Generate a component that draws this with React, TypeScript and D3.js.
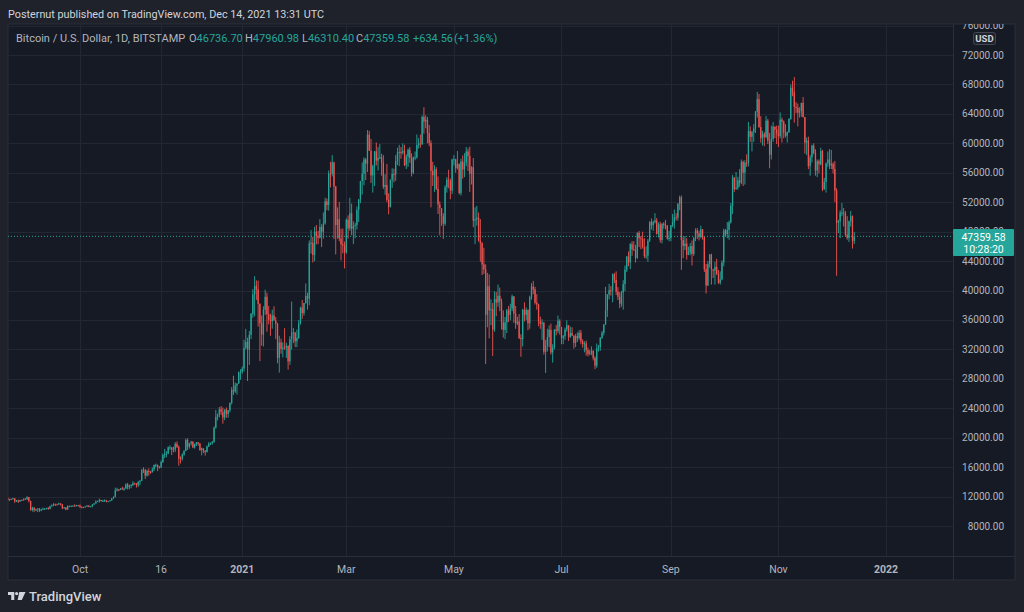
import * as d3 from 'd3';

// BTC/USD daily candles, BITSTAMP, 2020-08-21 .. 2021-12-14 (one value per day)
const firstDay = '2020-08-21';

const opens = [
  11860, 11530, 11680, 11650, 11770, 11340, 11470, 11320, 11530, 11480, 11710,
  11650, 11920, 11400, 10170, 10470, 10170, 10250, 10370, 10130, 10230, 10340, 10390, 10440, 10330, 10680, 10790, 10950, 10940, 10930, 11080, 10920, 10420, 10530, 10240, 10740, 10690, 10730, 10770, 10700, 10840,
  10780, 10620, 10570, 10550, 10670, 10790, 10600, 10670, 10920, 11060, 11300, 11380, 11540, 11430, 11430, 11500, 11320, 11360, 11500, 11750, 11920, 12820, 12980, 12930, 13120, 13030, 13070, 13650, 13270, 13460, 13560,
  13800, 13760, 13550, 14030, 14150, 15590, 15580, 14840, 15480, 15330, 15300, 15700, 16290, 16320, 16070, 15960, 16720, 17660, 17800, 17820, 18690, 18690, 18400, 18380, 19170, 18730, 17150, 17140, 17720, 18180,
  19700, 18790, 19220, 19450, 18680, 19150, 19370, 19180, 18320, 18550, 18260, 18040, 18800, 19170, 19270, 19440, 21360, 22820, 23140, 23860, 23480, 22740, 23830, 23230, 23730, 24710, 26490, 26280, 27080, 27360, 28890,
  28970, 29410, 32200, 33000, 31990, 33980, 36820, 39470, 40630, 40150, 38180, 35540, 34010, 37390, 39150, 36770, 36010, 35800, 36620, 35920, 35470, 30850, 32950, 32080, 32260, 32250, 32470, 30370, 33380, 34270, 34320,
  33100, 33540, 35510, 37670, 36930, 38290, 39260, 38870, 46400, 46480, 44830, 47990, 47400, 47190, 48630, 47990, 49130, 52120, 51610, 55890, 55850, 57410, 54130, 48900, 49700, 47060, 46280, 46110,
  45160, 49610, 48430, 50500, 48370, 48760, 48880, 50970, 52390, 54880, 55860, 57800, 57230, 61190, 59000, 55630, 56910, 58910, 57650, 58030, 58100, 57350, 54100, 54340, 52300, 51330, 55030, 55830, 55780, 57600, 58760,
  58800, 58730, 58970, 57060, 58200, 59130, 57990, 56000, 58090, 58100, 59770, 59980, 59860, 63580, 62960, 63200, 61410, 60030, 56250, 55660, 56470, 53800, 51700, 51180, 50090, 49070, 54020, 55050, 54880, 53580,
  57800, 57830, 56630, 57210, 53240, 57520, 56440, 57380, 58900, 58280, 55860, 56750, 49500, 49690, 49900, 46760, 46430, 43540, 42880, 36700, 40580, 37300, 37450, 34700, 38800, 38370, 39290, 38530, 35680, 34640, 35660,
  37300, 36690, 37570, 39190, 36850, 35520, 35800, 33550, 33400, 37390, 36690, 37340, 35550, 39100, 40520, 40150, 38350, 38100, 35840, 35480, 35600, 31680, 32510, 33680, 34660, 31590, 32280, 34700, 34500, 35900,
  35040, 33570, 33800, 34670, 35290, 33690, 34220, 33860, 32880, 33810, 33520, 34260, 33090, 32730, 32820, 31880, 31390, 31530, 31780, 30830, 29790, 32140, 32300, 33590, 34260, 35400, 37300, 39470, 40030, 40020, 42220,
  41460, 39850, 39150, 38200, 39720, 40870, 42830, 44610, 43810, 46290, 45590, 45550, 44420, 47830, 47110, 47010, 45900, 44690, 44740, 46760, 49330, 48860, 49300, 49520, 47700, 48990, 46850, 49070, 48900, 48820, 47050,
  47130, 48850, 49280, 49940, 49910, 51770, 52660, 46860, 46070, 46370, 44850, 45160, 46030, 44960, 47110, 48150, 47760, 47300, 48310, 47250, 42900, 40700, 43590, 44880, 42840, 42720, 43210, 42240, 41040, 41520,
  43790, 48140, 47660, 48240, 49250, 51500, 55340, 53800, 53970, 54970, 54660, 57480, 56010, 57370, 57350, 61670, 60880, 61530, 62040, 64280, 66000, 62210, 60690, 61290, 60860, 63080, 60330, 58450, 60590, 62250, 61860,
  61320, 61000, 63230, 62940, 61440, 61010, 61530, 63310, 67550, 66940, 64950, 64830, 64160, 64400, 65500, 63560, 60100, 60370, 56900, 58100, 59700, 58700, 56300, 57570, 57150, 58960, 53740, 54750, 57280, 57800,
  56990, 57230, 56510, 53600, 49200, 49390, 50580, 50600, 50500, 47600, 47140, 49390, 50100, 46737,
];

const highs = [
  11880, 11690, 11720, 11820, 11780, 11540, 11590, 11550, 11580, 11720, 11770,
  12050, 11950, 11440, 10630, 10570, 10350, 10400, 10440, 10350, 10500, 10400, 10480, 10570, 10780, 10940, 11100, 11050, 11030, 11180, 11080, 10990, 10580, 10560, 10780, 10770, 10790, 10800, 10950, 10870, 10850,
  10930, 10660, 10610, 10690, 10800, 10800, 10700, 10960, 11110, 11490, 11440, 11720, 11550, 11560, 11620, 11540, 11400, 11500, 11800, 12030, 13210, 13190, 13020, 13160, 13350, 13240, 13790, 13860, 13630, 13680, 14100,
  13900, 13830, 14080, 14240, 15760, 15970, 15770, 15650, 15830, 15470, 15950, 16350, 16480, 16330, 16140, 16900, 17860, 18480, 18170, 18800, 18960, 18690, 18780, 19400, 19500, 18930, 17450, 17870, 18330, 19860,
  19920, 19300, 19580, 19520, 19180, 19420, 19420, 19290, 18640, 18560, 18280, 18950, 19400, 19340, 19560, 21530, 23770, 23290, 24170, 24300, 24100, 23830, 24100, 23790, 24790, 26880, 28420, 27500, 27380, 28990, 29300,
  29680, 33300, 34800, 33600, 34500, 36950, 40180, 41950, 41380, 41350, 38260, 36600, 37850, 40100, 39700, 37900, 36850, 37400, 37850, 36400, 35600, 33850, 33450, 32950, 34880, 32900, 32550, 33800, 38500, 34900, 34320,
  34700, 35980, 37800, 38700, 38300, 40950, 39700, 46800, 48200, 47300, 48650, 48900, 48100, 49700, 49000, 50600, 52600, 52500, 56300, 57500, 58400, 57500, 54200, 51300, 52050, 48400, 48400, 46650,
  49800, 50200, 52600, 51800, 49400, 49200, 51400, 52400, 54900, 57400, 58100, 58000, 61800, 61700, 60600, 57100, 58950, 60100, 59500, 59900, 58600, 58400, 55800, 57200, 53200, 55100, 56600, 56550, 58400, 59400, 59800,
  59500, 60000, 59800, 58500, 59300, 59500, 58650, 58200, 58900, 61200, 60700, 61200, 63800, 64900, 63800, 63600, 62500, 60400, 57500, 57000, 56750, 55500, 52100, 51200, 50500, 54300, 55400, 56400, 55200, 57900,
  58400, 57900, 58950, 57250, 57900, 58350, 58650, 59500, 59300, 59550, 56900, 58000, 51300, 51500, 50600, 49700, 46600, 45800, 43550, 42400, 42200, 38800, 38300, 39900, 39800, 40800, 40400, 38900, 37300, 36400, 37500,
  37900, 38200, 39450, 39250, 37900, 36450, 36800, 34050, 37500, 38400, 37700, 37450, 39300, 41000, 41300, 40500, 39500, 38200, 36450, 36100, 35750, 33300, 34800, 35250, 35500, 32700, 34700, 35300, 36600, 36100,
  35050, 33950, 34950, 35950, 35300, 35100, 35000, 33900, 34100, 34300, 34600, 34650, 33350, 33100, 33200, 32250, 31950, 32400, 31900, 31050, 32800, 32600, 33650, 34500, 35400, 40500, 39500, 40900, 40600, 42300, 42400,
  42600, 40450, 39800, 39950, 41400, 43400, 44700, 45300, 46450, 46700, 46700, 46200, 47900, 48100, 47400, 48000, 47100, 46000, 47000, 49400, 49800, 49500, 50500, 49850, 49250, 49350, 49150, 49300, 49600, 48900, 48100,
  48900, 50400, 51000, 50500, 51900, 52900, 52900, 47300, 47400, 47100, 45950, 46450, 46800, 47250, 48450, 48500, 48150, 48800, 48350, 47350, 43600, 44000, 44950, 45000, 42950, 43900, 44300, 42800, 42600, 44100,
  48400, 48350, 49300, 49500, 51900, 55700, 55400, 56100, 55450, 56500, 57800, 57650, 57700, 58500, 62900, 62300, 61700, 62600, 64400, 67000, 66700, 63700, 61700, 61500, 63700, 63300, 61400, 62400, 62900, 62300, 62400,
  62400, 64200, 63500, 63100, 62600, 61600, 63400, 68000, 68500, 69000, 65600, 65400, 64900, 65500, 66300, 63600, 60800, 60900, 58400, 59800, 60000, 59200, 57800, 57800, 59400, 59100, 55300, 57400, 58900, 59200,
  59100, 57400, 57600, 53900, 49600, 50900, 51900, 51200, 50800, 50100, 49500, 50800, 50200, 47961,
];

const lows = [
  11510, 11380, 11520, 11600, 11150, 11260, 11130, 11280, 11420, 11460, 11570,
  11540, 11200, 10070, 9960, 9880, 10020, 9880, 9890, 10010, 10200, 10150, 10270, 10210, 10270, 10640, 10680, 10740, 10820, 10890, 10790, 10290, 10360, 10140, 10200, 10560, 10640, 10630, 10660, 10660, 10670,
  10440, 10390, 10500, 10520, 10610, 10550, 10580, 10540, 10830, 11050, 11280, 11200, 11300, 11300, 11260, 11220, 11300, 11340, 11410, 11690, 11900, 12690, 12730, 12880, 12900, 12780, 13060, 12950, 12990, 13130, 13430,
  13620, 13210, 13290, 13540, 14100, 15200, 14380, 14720, 14840, 15100, 15280, 15460, 15990, 15450, 15800, 15870, 16550, 17230, 17340, 17770, 18350, 17640, 18020, 18030, 18600, 16200, 16500, 16900, 17540, 18180,
  18330, 18510, 18930, 18580, 18510, 18870, 18910, 18200, 17600, 17920, 17570, 18020, 18730, 19000, 19050, 19300, 21230, 22350, 22750, 23070, 21900, 22380, 22700, 22720, 23450, 24510, 25810, 26090, 25870, 27340, 27880,
  28700, 29000, 32000, 27700, 29900, 33400, 36300, 36500, 38700, 35100, 30400, 32500, 32400, 36700, 34400, 35400, 33850, 34800, 35900, 33400, 30100, 28850, 31400, 30900, 31950, 30850, 29250, 29900, 31950, 32850, 32300,
  32300, 33420, 35370, 36160, 36600, 38200, 37400, 37990, 45000, 43800, 43980, 46250, 46300, 47050, 45900, 47050, 48950, 50900, 50850, 54000, 55500, 47000, 44900, 47050, 46700, 44100, 45050, 43000,
  45000, 47050, 48100, 47500, 46300, 47100, 48300, 49300, 51850, 53050, 54300, 55000, 56100, 58950, 54600, 53300, 54200, 57000, 56300, 57850, 55600, 53800, 53000, 52000, 50350, 51300, 53950, 54700, 54900, 57050, 56900,
  57900, 58500, 56900, 56500, 56800, 57350, 55500, 55800, 57700, 57900, 59300, 59400, 59800, 61300, 62050, 60000, 59600, 51300, 54200, 53400, 53650, 50400, 47500, 48800, 47000, 48800, 53300, 53900, 52400, 53100,
  57000, 56000, 56450, 53050, 52900, 55200, 55400, 56900, 56250, 53400, 54400, 48600, 46300, 48800, 46650, 43900, 42100, 42250, 30000, 35000, 33500, 35300, 31100, 34400, 36500, 37800, 37200, 34700, 33600, 33400, 34200,
  35700, 35950, 37200, 35600, 34800, 35300, 33400, 31000, 32400, 35800, 35950, 34600, 34800, 38750, 39500, 38100, 37400, 35150, 34800, 33300, 31300, 28800, 31700, 32300, 31300, 30200, 32000, 33900, 34200, 34000,
  32700, 32700, 33300, 34400, 33150, 33550, 33800, 32100, 32300, 33000, 33300, 32700, 32250, 31600, 31150, 31050, 31200, 31200, 30500, 29300, 29500, 31700, 31800, 33400, 33900, 35300, 36400, 38800, 39300, 38400, 41000,
  39400, 38700, 37600, 37800, 37400, 39900, 42500, 43300, 42900, 44700, 45400, 43800, 44300, 45900, 45600, 45700, 44400, 44300, 43900, 46600, 48300, 48100, 49100, 47600, 47200, 46500, 46400, 48400, 48300, 46900, 46700,
  46700, 48600, 48400, 49500, 49500, 50900, 42800, 44400, 45500, 44200, 44800, 44800, 43400, 44700, 46700, 47000, 46800, 47100, 46900, 42500, 39600, 40600, 43100, 40800, 41700, 40800, 42100, 40900, 40800, 41400,
  43300, 47400, 47100, 46900, 49100, 50400, 53400, 53700, 53700, 54100, 54450, 54200, 54400, 56800, 56850, 60200, 58900, 60200, 61400, 63500, 62100, 60100, 59700, 59600, 60700, 59900, 56600, 57800, 60200, 60700, 59900,
  59500, 60700, 60100, 60700, 60800, 60100, 61400, 63200, 66400, 62800, 64100, 62300, 63500, 63600, 63500, 58600, 58400, 56500, 55600, 57400, 58500, 55600, 55400, 55900, 57000, 53500, 53700, 53300, 56800, 56500,
  56500, 55900, 52000, 42000, 47800, 47100, 50100, 48700, 47400, 46900, 46600, 48700, 45700, 46310,
];

const closes = [
  11530, 11680, 11650, 11770, 11340, 11470, 11320, 11530, 11480, 11710, 11650,
  11920, 11400, 10170, 10470, 10170, 10250, 10370, 10130, 10230, 10340, 10390, 10440, 10330, 10680, 10790, 10950, 10940, 10930, 11080, 10920, 10420, 10530, 10240, 10740, 10690, 10730, 10770, 10700, 10840, 10780,
  10620, 10570, 10550, 10670, 10790, 10600, 10670, 10920, 11060, 11300, 11380, 11540, 11430, 11430, 11500, 11320, 11360, 11500, 11750, 11920, 12820, 12980, 12930, 13120, 13030, 13070, 13650, 13270, 13460, 13560, 13800,
  13760, 13550, 14030, 14150, 15590, 15580, 14840, 15480, 15330, 15300, 15700, 16290, 16320, 16070, 15960, 16720, 17660, 17800, 17820, 18690, 18690, 18400, 18380, 19170, 18730, 17150, 17140, 17720, 18180, 19700,
  18790, 19220, 19450, 18680, 19150, 19370, 19180, 18320, 18550, 18260, 18040, 18800, 19170, 19270, 19440, 21360, 22820, 23140, 23860, 23480, 22740, 23830, 23230, 23730, 24710, 26490, 26280, 27080, 27360, 28890, 28970,
  29410, 32200, 33000, 31990, 33980, 36820, 39470, 40630, 40150, 38180, 35540, 34010, 37390, 39150, 36770, 36010, 35800, 36620, 35920, 35470, 30850, 32950, 32080, 32260, 32250, 32470, 30370, 33380, 34270, 34320, 33100,
  33540, 35510, 37670, 36930, 38290, 39260, 38870, 46400, 46480, 44830, 47990, 47400, 47190, 48630, 47990, 49130, 52120, 51610, 55890, 55850, 57410, 54130, 48900, 49700, 47060, 46280, 46110, 45160,
  49610, 48430, 50500, 48370, 48760, 48880, 50970, 52390, 54880, 55860, 57800, 57230, 61190, 59000, 55630, 56910, 58910, 57650, 58030, 58100, 57350, 54100, 54340, 52300, 51330, 55030, 55830, 55780, 57600, 58760, 58800,
  58730, 58970, 57060, 58200, 59130, 57990, 56000, 58090, 58100, 59770, 59980, 59860, 63580, 62960, 63200, 61410, 60030, 56250, 55660, 56470, 53800, 51700, 51180, 50090, 49070, 54020, 55050, 54880, 53580, 57800,
  57830, 56630, 57210, 53240, 57520, 56440, 57380, 58900, 58280, 55860, 56750, 49500, 49690, 49900, 46760, 46430, 43540, 42880, 36700, 40580, 37300, 37450, 34700, 38800, 38370, 39290, 38530, 35680, 34640, 35660, 37300,
  36690, 37570, 39190, 36850, 35520, 35800, 33550, 33400, 37390, 36690, 37340, 35550, 39100, 40520, 40150, 38350, 38100, 35840, 35480, 35600, 31680, 32510, 33680, 34660, 31590, 32280, 34700, 34500, 35900, 35040,
  33570, 33800, 34670, 35290, 33690, 34220, 33860, 32880, 33810, 33520, 34260, 33090, 32730, 32820, 31880, 31390, 31530, 31780, 30830, 29790, 32140, 32300, 33590, 34260, 35400, 37300, 39470, 40030, 40020, 42220, 41460,
  39850, 39150, 38200, 39720, 40870, 42830, 44610, 43810, 46290, 45590, 45550, 44420, 47830, 47110, 47010, 45900, 44690, 44740, 46760, 49330, 48860, 49300, 49520, 47700, 48990, 46850, 49070, 48900, 48820, 47050, 47130,
  48850, 49280, 49940, 49910, 51770, 52660, 46860, 46070, 46370, 44850, 45160, 46030, 44960, 47110, 48150, 47760, 47300, 48310, 47250, 42900, 40700, 43590, 44880, 42840, 42720, 43210, 42240, 41040, 41520, 43790,
  48140, 47660, 48240, 49250, 51500, 55340, 53800, 53970, 54970, 54660, 57480, 56010, 57370, 57350, 61670, 60880, 61530, 62040, 64280, 66000, 62210, 60690, 61290, 60860, 63080, 60330, 58450, 60590, 62250, 61860, 61320,
  61000, 63230, 62940, 61440, 61010, 61530, 63310, 67550, 66940, 64950, 64830, 64160, 64400, 65500, 63560, 60100, 60370, 56900, 58100, 59700, 58700, 56300, 57570, 57150, 58960, 53740, 54750, 57280, 57800, 56990,
  57230, 56510, 53600, 49200, 49390, 50580, 50600, 50500, 47600, 47140, 49390, 50100, 46737, 47360,
];

const lastPrice = 47359.58;

const priceTicks = [8000, 12000, 16000, 20000, 24000, 28000, 32000, 36000, 40000, 44000, 48000, 52000, 56000, 60000, 64000, 68000, 72000, 76000];

const timeTickDates = ['2020-10-01', '2020-11-16', '2021-01-01', '2021-03-01', '2021-05-01', '2021-07-01', '2021-09-01', '2021-11-01', '2022-01-01'];
const timeTickLabels = ['Oct', '16', '2021', 'Mar', 'May', 'Jul', 'Sep', 'Nov', '2022'];

const legendParts = [
  {key: 'O', val: '46736.70', x: 189},
  {key: 'H', val: '47960.98', x: 245},
  {key: 'L', val: '46310.40', x: 302},
  {key: 'C', val: '47359.58', x: 356},
];

const UP = '#26a69a';
const DOWN = '#ef5350';
const FONT = 'Roboto, "Liberation Sans", sans-serif';

const App = () => {
  const W = 1024, H = 612;
  const left = 8, top = 24, paneRight = 953, paneBottom = 556, right = 1015, bottom = 580;

  const x = d3.scaleUtc()
    .domain([new Date('2020-10-01'), new Date('2022-01-01')])
    .range([80, 886]);
  const y = d3.scaleLinear()
    .domain([8000, 72000])
    .range([526, 55]);

  const start = new Date(firstDay);
  const days = d3.utcDay.range(start, d3.utcDay.offset(start, closes.length));

  const bodyW = 1.3;
  const lastY = y(lastPrice);
  const boxTop = 229, boxH = 27;

  return (
    <div style={{position: 'fixed', left: 0, top: 0, width: W, height: H}}>
      <svg width={W} height={H} style={{display: 'block'}} fontFamily={FONT}>
        <defs>
          <clipPath id="pane">
            <rect x={left} y={top} width={paneRight - left} height={paneBottom - top} />
          </clipPath>
          {/* axis labels are hidden where the last-price badge sits */}
          <clipPath id="priceAxis">
            <rect x={paneRight} y={top} width={right - paneRight} height={boxTop - top} />
            <rect x={paneRight} y={boxTop + boxH} width={right - paneRight} height={paneBottom - boxTop - boxH} />
          </clipPath>
        </defs>

        <rect width={W} height={H} fill="#1f222b" />
        <text x={8} y={18} fontSize={10.8} fill="#d1d4dc">Posternut published on TradingView.com, Dec 14, 2021 13:31 UTC</text>

        <rect x={left} y={top} width={right - left} height={bottom - top} fill="#161a25" stroke="#2a2e39" />

        {/* grid */}
        <g clipPath="url(#pane)" stroke="#232733" strokeWidth={1}>
          {priceTicks.map(t => (
            <line key={t} x1={left} x2={paneRight} y1={Math.round(y(t)) + 0.5} y2={Math.round(y(t)) + 0.5} />
          ))}
          {timeTickDates.map(d => (
            <line key={d} x1={Math.round(x(new Date(d))) + 0.5} x2={Math.round(x(new Date(d))) + 0.5} y1={top} y2={paneBottom} />
          ))}
        </g>

        {/* candles */}
        <g clipPath="url(#pane)">
          {days.map((d, i) => {
            const o = opens[i], h = highs[i], l = lows[i], c = closes[i];
            const cx = x(d);
            const col = c >= o ? UP : DOWN;
            const yTop = y(Math.max(o, c));
            const yBot = y(Math.min(o, c));
            return (
              <g key={i}>
                <line x1={cx} x2={cx} y1={y(Math.max(h, o, c))} y2={y(Math.min(l, o, c))} stroke={col} strokeWidth={0.9} />
                <rect x={cx - bodyW / 2} y={yTop} width={bodyW} height={Math.max(1, yBot - yTop)} fill={col} />
              </g>
            );
          })}
        </g>

        {/* last price line */}
        <line x1={left} x2={paneRight} y1={lastY} y2={lastY} stroke={UP} strokeWidth={1} strokeDasharray="1 2" />

        {/* legend */}
        <text x={16} y={42} fontSize={11} fill="#b2b5be">Bitcoin / U.S. Dollar, 1D, BITSTAMP</text>
        {legendParts.map(p => (
          <text key={p.key} x={p.x} y={42} fontSize={11} fill="#b2b5be">
            {p.key}<tspan fill={UP}>{p.val}</tspan>
          </text>
        ))}
        <text x={413} y={42} fontSize={11} fill={UP}>+634.56</text>
        <text x={454} y={42} fontSize={11} fill={UP}>(+1.36%)</text>

        {/* panes separators */}
        <line x1={paneRight + 0.5} x2={paneRight + 0.5} y1={top} y2={bottom} stroke="#2a2e39" />
        <line x1={left} x2={right} y1={paneBottom + 0.5} y2={paneBottom + 0.5} stroke="#2a2e39" />

        {/* price axis */}
        <g clipPath="url(#priceAxis)">
          {priceTicks.map(t => (
            <text key={t} x={1004} y={y(t)} dy="0.35em" textAnchor="end" fontSize={10} fill="#b2b5be">
              {d3.format('.2f')(t)}
            </text>
          ))}
        </g>
        <rect x={973.5} y={32.5} width={22} height={12} rx={2} fill="#1e222d" stroke="#434651" />
        <text x={984.5} y={42} textAnchor="middle" fontSize={9.5} fontWeight="bold" fill="#d1d4dc">USD</text>

        <rect x={953} y={boxTop} width={61} height={boxH} rx={1} fill={UP} />
        <text x={983.5} y={240.5} textAnchor="middle" fontSize={10.5} fill="#ffffff">{d3.format('.2f')(lastPrice)}</text>
        <text x={983.5} y={253} textAnchor="middle" fontSize={10.5} fill="#ffffff">10:28:20</text>

        {/* time axis */}
        {timeTickDates.map((d, i) => (
          <text key={d} x={x(new Date(d))} y={573} textAnchor="middle" fontSize={10.5}
            fontWeight={timeTickLabels[i].length === 4 ? 'bold' : 'normal'} fill="#b2b5be">
            {timeTickLabels[i]}
          </text>
        ))}

        {/* TradingView mark */}
        <g fill="#d1d4dc">
          <path d="M8,592 H14.3 V600 H11.2 V595 H8 Z" />
          <circle cx={16.6} cy={593.6} r={1.6} />
          <path d="M19.3,592 H25.5 L21.8,600 H17.6 Z" />
        </g>
        <text x={29} y={600.5} fontSize={13} fontWeight={500} fill="#d1d4dc">TradingView</text>
      </svg>
    </div>
  );
};

export default App;
